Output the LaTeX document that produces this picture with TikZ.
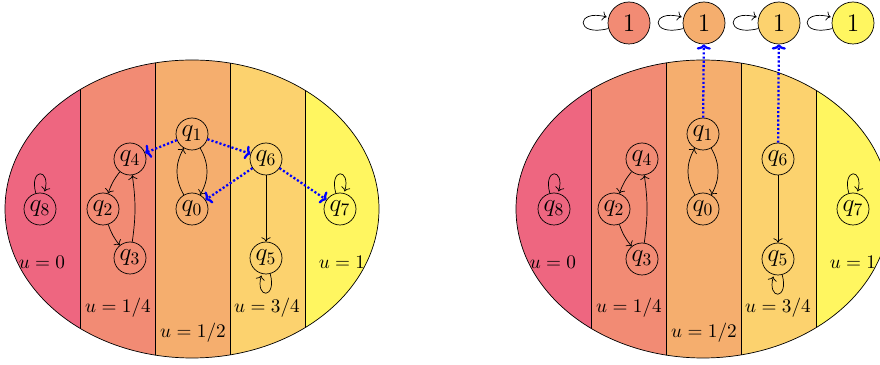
\documentclass[tikz,border=0pt]{standalone}
\usetikzlibrary{arrows.meta}
\definecolor[named]{UZero}{RGB}{238,102,128}
\definecolor[named]{UQuarter}{RGB}{242,139,116}
\definecolor[named]{UHalf}{RGB}{245,174,110}
\definecolor[named]{UThreeQ}{RGB}{252,210,110}
\definecolor[named]{UOne}{RGB}{255,246,96}
\tikzset{region/.pic={
  \begin{scope}
    \clip (0,0) ellipse [x radius=187, y radius=149];
    \fill[UZero] (-190,-150) rectangle (-112,150);
    \fill[UQuarter] (-112,-150) rectangle (-37,150);
    \fill[UHalf] (-37,-150) rectangle (38,150);
    \fill[UThreeQ] (38,-150) rectangle (113,150);
    \fill[UOne] (113,-150) rectangle (190,150);
    \draw (-112,-150) -- (-112,150);
    \draw (-37,-150) -- (-37,150);
    \draw (38,-150) -- (38,150);
    \draw (113,-150) -- (113,150);
  \end{scope}
  \draw (0,0) ellipse [x radius=187, y radius=149];
}}
\tikzset{
  qstate/.style={draw,circle,minimum size=0.64cm,inner sep=0pt,font=\Large},
  sink/.style={draw,circle,minimum size=0.84cm,inner sep=0pt,font=\Large},
  ulabel/.style={inner sep=1pt,font=\fontsize{11}{13}\selectfont},
  move/.style={-{To[length=3pt,width=8pt]},blue,line width=1.3pt,
    dash pattern=on 1.2pt off 1.2pt},
}
\begin{document}
\begin{tikzpicture}[x=0.02cm,y=0.02cm]
    \clip (0,0) rectangle (880,365);

    % Regions
    \pic at (192,156) {region};
    \pic at (703,156) {region};

    % Left picture
    \begin{scope}
      \node[qstate] (q8) at (40,156) {$q_8$};
      \node[qstate] (q4) at (130,206) {$q_4$};
      \node[qstate] (q2) at (103,156) {$q_2$};
      \node[qstate] (q3) at (130,107) {$q_3$};
      \node[qstate] (q1) at (192,231) {$q_1$};
      \node[qstate] (q0) at (192,156) {$q_0$};
      \node[qstate] (q6) at (266,206) {$q_6$};
      \node[qstate] (q5) at (266,107) {$q_5$};
      \node[qstate] (q7) at (340,156) {$q_7$};

      \node[ulabel] (u0) at (42,103) {$u=0$};
      \node[ulabel] (u1) at (118,57) {$u=1/4$};
      \node[ulabel] (u2) at (193,32) {$u=1/2$};
      \node[ulabel] (u3) at (267,57) {$u=3/4$};
      \node[ulabel] (u4) at (342,103) {$u=1$};

      \draw[->] (q4) to[bend right=10] (q2);
      \draw[->] (q2) to[bend right=10] (q3);
      \draw[->] (q3) to[bend right=8] (q4);
      \draw[->] (q1) to[bend left=30] (q0);
      \draw[->] (q0) to[bend left=30] (q1);
      \draw[->] (q6) -- (q5);
      \path[->] (q8) edge[loop above] (q8)
        (q7) edge[loop above] (q7)
        (q5) edge[loop below] (q5);

      \draw[move] (q1) -- (q4);
      \draw[move] (q1) -- (q6);
      \draw[move] (q6) -- (q0);
      \draw[move] (q6) -- (q7);
    \end{scope}

    % Right picture
    \begin{scope}
      \node[qstate] (q8r) at (554,156) {$q_8$};
      \node[qstate] (q4r) at (642,206) {$q_4$};
      \node[qstate] (q2r) at (614,156) {$q_2$};
      \node[qstate] (q3r) at (642,106) {$q_3$};
      \node[qstate] (q1r) at (703,231) {$q_1$};
      \node[qstate] (q0r) at (703,156) {$q_0$};
      \node[qstate] (q6r) at (778,206) {$q_6$};
      \node[qstate] (q5r) at (778,106) {$q_5$};
      \node[qstate] (q7r) at (853,156) {$q_7$};

      \node[ulabel] (u0r) at (553,103) {$u=0$};
      \node[ulabel] (u1r) at (629,57) {$u=1/4$};
      \node[ulabel] (u2r) at (704,32) {$u=1/2$};
      \node[ulabel] (u3r) at (778,57) {$u=3/4$};
      \node[ulabel] (u4r) at (853,103) {$u=1$};

      \node[sink,fill=UQuarter] (s1) at (629,342) {$1$};
      \node[sink,fill=UHalf] (s2) at (704,342) {$1$};
      \node[sink,fill=UThreeQ] (s3) at (779,342) {$1$};
      \node[sink,fill=UOne] (s4) at (853,342) {$1$};

      \draw[->] (q4r) to[bend right=10] (q2r);
      \draw[->] (q2r) to[bend right=10] (q3r);
      \draw[->] (q3r) to[bend right=8] (q4r);
      \draw[->] (q1r) to[bend left=30] (q0r);
      \draw[->] (q0r) to[bend left=30] (q1r);
      \draw[->] (q6r) -- (q5r);
      \path[->] (q8r) edge[loop above] (q8r)
        (q7r) edge[loop above] (q7r)
        (q5r) edge[loop below] (q5r)
        (s1) edge[loop left] (s1)
        (s2) edge[loop left] (s2)
        (s3) edge[loop left] (s3)
        (s4) edge[loop left] (s4);

      \draw[move] (q1r) -- (s2);
      \draw[move] (q6r) -- (s3);
    \end{scope}

\end{tikzpicture}
\end{document}
